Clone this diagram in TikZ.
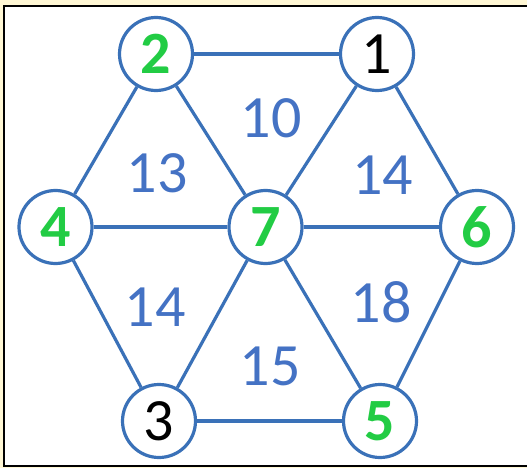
\documentclass[tikz,border=0pt]{standalone}
\usepackage{fontspec}
\setmainfont{Carlito}
\definecolor{bgyellow}{RGB}{255,247,212}
\definecolor{lineblue}{RGB}{58,113,184}
\definecolor{textblue}{RGB}{68,114,196}
\definecolor{vgreen}{RGB}{34,204,68}
\tikzset{
  vert/.style={circle, draw=lineblue, line width=3.2pt, fill=white, minimum size=73pt, inner sep=0pt, font=\fontsize{60}{66}\selectfont},
  gv/.style={vert, text=vgreen, font=\fontsize{60}{66}\selectfont\bfseries},
  edge/.style={draw=lineblue, line width=3.2pt},
  wlabel/.style={text=textblue, inner sep=0pt, font=\fontsize{60}{66}\selectfont}
}
\begin{document}
\begin{tikzpicture}[x=1pt,y=-1pt]
\useasboundingbox (0,0) rectangle (527,468);
\fill[bgyellow] (0,0) rectangle (527,468);
\fill[white] (4,6) rectangle (527,466);
\draw[black, line width=2.2pt] (527,6) -- (4,6) -- (4,466) -- (527,466);
\node[gv] (n2) at (156,54) {2};
\node[vert] (n1) at (377,54) {1};
\node[gv] (n4) at (55.5,227) {4};
\node[gv] (n7) at (265.5,227) {7};
\node[gv] (n6) at (477,227) {6};
\node[vert] (n3) at (159,421) {3};
\node[gv] (n5) at (380,421) {5};
\path[edge] (n2) -- (n1);
\path[edge] (n2) -- (n4);
\path[edge] (n2) -- (n7);
\path[edge] (n1) -- (n7);
\path[edge] (n1) -- (n6);
\path[edge] (n4) -- (n7);
\path[edge] (n7) -- (n6);
\path[edge] (n4) -- (n3);
\path[edge] (n7) -- (n3);
\path[edge] (n7) -- (n5);
\path[edge] (n6) -- (n5);
\path[edge] (n3) -- (n5);
\node[wlabel] (l10) at (271,118.5) {10};
\node[wlabel] (l13) at (157,173.5) {13};
\node[wlabel] (l14a) at (382.5,175) {14};
\node[wlabel] (l14b) at (155,307) {14};
\node[wlabel] (l18) at (381,302.5) {18};
\node[wlabel] (l15) at (270,366) {15};
\end{tikzpicture}
\end{document}
